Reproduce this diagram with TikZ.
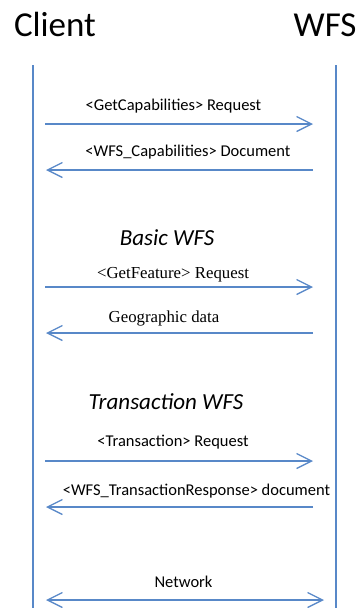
\documentclass[tikz,border=0pt]{standalone}
\usepackage{fontspec}
\setmainfont{Carlito}
\newfontfamily\serifface{Liberation Serif}
\usetikzlibrary{arrows.meta}
\definecolor{lifeblue}{RGB}{88,136,200}
\tikzset{
  x=1pt, y=-1pt,
  lifeline/.style={draw=lifeblue, line width=1.3pt},
  msg/.style={draw=lifeblue, line width=1.3pt, -{Straight Barb[length=15pt,width=15pt,line width=1.3pt]}},
  twoway/.style={draw=lifeblue, line width=1.3pt, {Straight Barb[length=15pt,width=15pt,line width=1.3pt]}-{Straight Barb[length=15pt,width=15pt,line width=1.3pt]}},
  actor/.style={anchor=base, inner sep=0pt, font=\fontsize{35}{40}\selectfont},
  section/.style={anchor=base, inner sep=0pt, font=\fontsize{23}{27}\selectfont\itshape},
  lbl/.style={anchor=base, inner sep=0pt, font=\fontsize{16.5}{19}\selectfont},
  slbl/.style={anchor=base, inner sep=0pt, font=\fontsize{16.8}{19}\serifface},
}
\begin{document}
\begin{tikzpicture}
\useasboundingbox (0,0) rectangle (361,608);

% participants
\node[actor] (client) at (55,36) {Client};
\node[actor] (wfs) at (325,36) {WFS};

% lifelines
\coordinate (ltop) at (33,65);
\coordinate (lbot) at (33,608);
\coordinate (rtop) at (336,65);
\coordinate (rbot) at (336,608);
\draw[lifeline] (ltop) -- (lbot);
\draw[lifeline] (rtop) -- (rbot);

% capabilities exchange
\coordinate (a1s) at (45,124);  \coordinate (a1e) at (313,124);
\coordinate (a2s) at (313,170); \coordinate (a2e) at (46,170);
\draw[msg] (a1s) -- (a1e);
\draw[msg] (a2s) -- (a2e);
\node[lbl] (l1) at (173.5,110) {<GetCapabilities> Request};
\node[lbl] (l2) at (188,156) {<WFS\_Capabilities> Document};

% basic WFS
\node[section] (basic) at (167,245.5) {Basic WFS};
\coordinate (a3s) at (45,287);  \coordinate (a3e) at (313,287);
\coordinate (a4s) at (313,333); \coordinate (a4e) at (46,333);
\draw[msg] (a3s) -- (a3e);
\draw[msg] (a4s) -- (a4e);
\node[slbl] (l3) at (173,278) {<GetFeature> Request};
\node[slbl] (l4) at (164,322.5) {Geographic data};

% transaction WFS
\node[section] (trans) at (166,409) {Transaction WFS};
\coordinate (a5s) at (45,461);  \coordinate (a5e) at (313,461);
\coordinate (a6s) at (313,507); \coordinate (a6e) at (46,507);
\draw[msg] (a5s) -- (a5e);
\draw[msg] (a6s) -- (a6e);
\node[lbl] (l5) at (173,446.5) {<Transaction> Request};
\node[lbl] (l6) at (196.5,495) {<WFS\_TransactionResponse> document};

% network
\coordinate (n1) at (46,600); \coordinate (n2) at (324,600);
\draw[twoway] (n1) -- (n2);
\node[lbl] (l7) at (183.5,587) {Network};
\end{tikzpicture}
\end{document}
